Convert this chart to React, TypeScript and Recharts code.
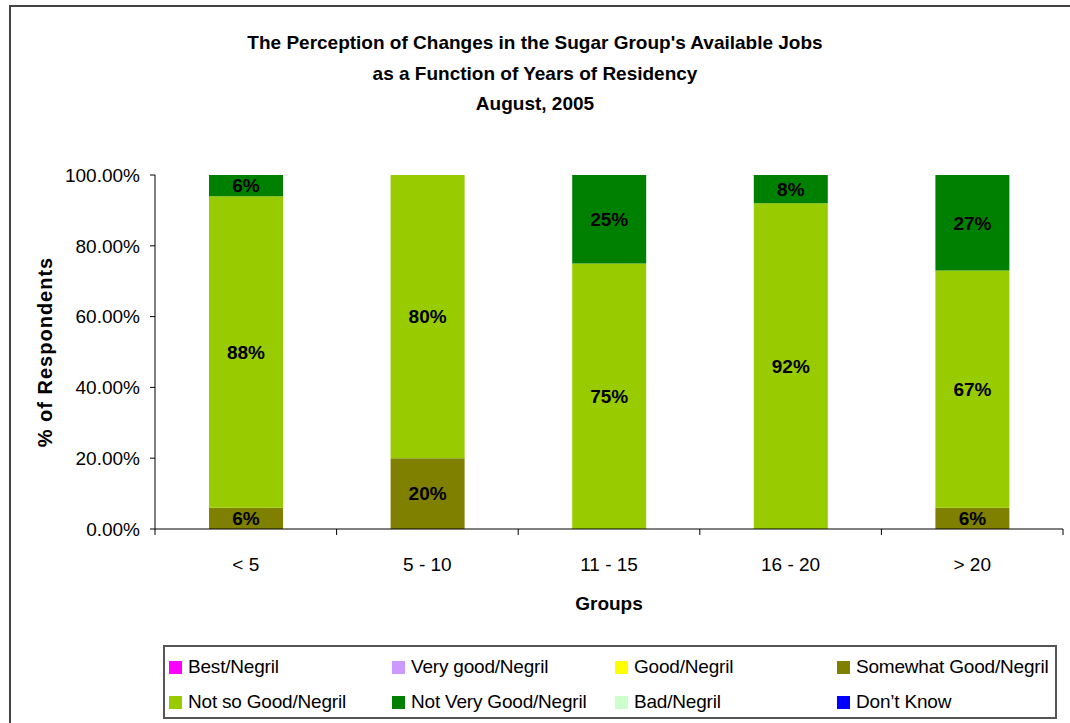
import { Bar, BarChart, LabelList, Legend, XAxis, YAxis } from 'recharts'

const groups = ['< 5', '5 - 10', '11 - 15', '16 - 20', '> 20']

const best = [0, 0, 0, 0, 0]
const veryGood = [0, 0, 0, 0, 0]
const good = [0, 0, 0, 0, 0]
const somewhatGood = [6, 20, 0, 0, 6]
const notSoGood = [88, 80, 75, 92, 67]
const notVeryGood = [6, 0, 25, 8, 27]
const bad = [0, 0, 0, 0, 0]
const dontKnow = [0, 0, 0, 0, 0]

const yTicks = [0, 20, 40, 60, 80, 100]

const series = [
  { key: 'best', name: 'Best/Negril', color: '#FF00FF', values: best },
  { key: 'veryGood', name: 'Very good/Negril', color: '#CC99FF', values: veryGood },
  { key: 'good', name: 'Good/Negril', color: '#FFFF00', values: good },
  { key: 'somewhatGood', name: 'Somewhat Good/Negril', color: '#808000', values: somewhatGood },
  { key: 'notSoGood', name: 'Not so Good/Negril', color: '#99CC00', values: notSoGood },
  { key: 'notVeryGood', name: 'Not Very Good/Negril', color: '#008000', values: notVeryGood },
  { key: 'bad', name: 'Bad/Negril', color: '#CCFFCC', values: bad },
  { key: 'dontKnow', name: 'Don\u2019t Know', color: '#0000FF', values: dontKnow },
]

const data = groups.map((group, i) => {
  const row: Record<string, string | number> = { group }
  series.forEach((s) => {
    row[s.key] = s.values[i]
  })
  return row
})

const font = '"Liberation Sans", Arial, sans-serif'

function GroupTick(props: any) {
  const { x, y, payload, index, width } = props
  const half = (width ?? 908) / groups.length / 2
  return (
    <g>
      <line x1={x - half} y1={y} x2={x - half} y2={y + 6} stroke="#000" />
      {index === groups.length - 1 && <line x1={x + half} y1={y} x2={x + half} y2={y + 6} stroke="#000" />}
      <text x={x} y={y + 37} textAnchor="middle" dominantBaseline="middle" fontSize={19} fill="#000" fontFamily={font}>
        {payload.value}
      </text>
    </g>
  )
}

function LegendBox() {
  return (
    <div
      style={{
        width: 894,
        height: 74,
        border: '2px solid #555',
        boxSizing: 'border-box',
        display: 'grid',
        gridTemplateColumns: '223px 223px 222px 1fr',
        gridTemplateRows: '36px 34px',
        padding: '2px 0 0 4px',
        fontFamily: font,
        fontSize: 19,
        color: '#000',
        letterSpacing: -0.2,
      }}
    >
      {series.map((s) => (
        <div key={s.key} style={{ display: 'flex', alignItems: 'center', whiteSpace: 'nowrap' }}>
          <span style={{ width: 13, height: 13, background: s.color, marginRight: 6, display: 'inline-block' }} />
          {s.name}
        </div>
      ))}
    </div>
  )
}

export default function App() {
  return (
    <div style={{ position: 'absolute', left: 0, top: 0, width: 1070, height: 723, overflow: 'hidden', background: '#fff', fontFamily: font }}>
      <div style={{ position: 'absolute', left: 0, width: 1070, top: 28, textAlign: 'center', fontWeight: 'bold', fontSize: 19, lineHeight: '30.5px', color: '#000' }}>
        <div>The Perception of Changes in the Sugar Group's Available Jobs</div>
        <div>as a Function of Years of Residency</div>
        <div>August, 2005</div>
      </div>
      <div
        style={{
          position: 'absolute',
          left: 45,
          top: 352,
          transform: 'translate(-50%, -50%) rotate(-90deg)',
          fontWeight: 'bold',
          fontSize: 20,
          letterSpacing: 1,
          whiteSpace: 'nowrap',
          color: '#000',
        }}
      >
        % of Respondents
      </div>
      <div style={{ position: 'absolute', left: 155, width: 908, top: 593, textAlign: 'center', fontWeight: 'bold', fontSize: 19, color: '#000' }}>
        Groups
      </div>
      <div style={{ position: 'absolute', left: 0, top: 0 }}>
        <BarChart width={1070} height={723} data={data} margin={{ top: 175, right: 7, left: 95, bottom: 90 }} barCategoryGap={54}>
          <XAxis
            dataKey="group"
            axisLine={{ stroke: '#000' }}
            tickLine={false}
            tickSize={0}
            tickMargin={0}
            height={30}
            tick={<GroupTick />}
            interval={0}
          />
          <YAxis
            domain={[0, 100]}
            ticks={yTicks}
            width={60}
            axisLine={{ stroke: '#000' }}
            tickLine={{ stroke: '#000' }}
            tickSize={5}
            tickMargin={10}
            tickFormatter={(v: number) => `${v.toFixed(2)}%`}
            tick={{ fontSize: 19, fill: '#000', fontFamily: font }}
          />
          <Legend
            verticalAlign="bottom"
            content={() => <LegendBox />}
            wrapperStyle={{ position: 'absolute', left: 163, top: 645, width: 894, height: 74 }}
          />
          {series.map((s) => (
            <Bar key={s.key} dataKey={s.key} name={s.name} stackId="a" fill={s.color} isAnimationActive={false}>
              <LabelList
                dataKey={s.key}
                position="center"
                formatter={(v: any) => (v > 0 ? `${v}%` : '')}
                style={{ fontSize: 19, fontWeight: 'bold', fill: '#000', fontFamily: font }}
              />
            </Bar>
          ))}
        </BarChart>
      </div>
      <div style={{ position: 'absolute', left: 9, top: 5, width: 1061, height: 2, background: '#444', zIndex: 5 }} />
      <div style={{ position: 'absolute', left: 9, top: 5, width: 2, height: 718, background: '#444', zIndex: 5 }} />
    </div>
  )
}
